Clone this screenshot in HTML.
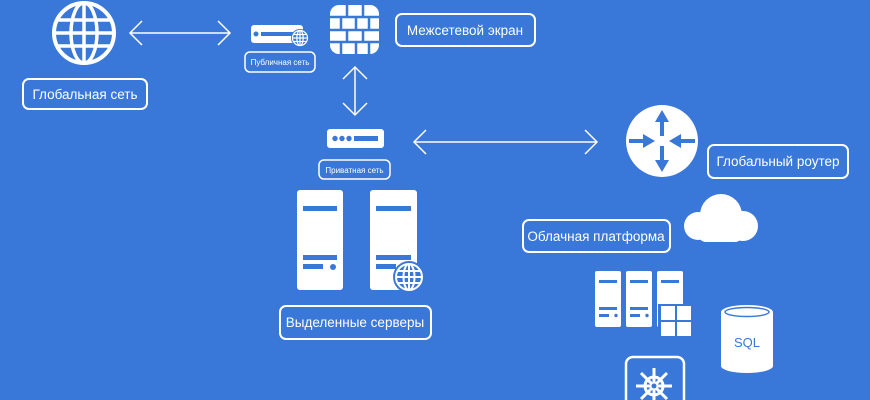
<!DOCTYPE html>
<html><head><meta charset="utf-8"><style>
html,body{margin:0;padding:0;background:#3977d8;}
svg{display:block}
text{font-family:"Liberation Sans",sans-serif;fill:#fff;font-weight:normal}
</style></head><body>
<svg width="870" height="400" viewBox="0 0 870 400" xmlns="http://www.w3.org/2000/svg">
<rect width="870" height="400" fill="#3977d8"/>
<g fill="none" stroke="#fff" stroke-width="2">
 <circle cx="84" cy="33" r="30" stroke-width="4"/>
 <ellipse cx="84" cy="33" rx="13" ry="30" stroke-width="3.5"/>
 <line x1="84" y1="3" x2="84" y2="63" stroke-width="3.5"/>
 <line x1="54" y1="33" x2="114" y2="33" stroke-width="3.5"/>
 <line x1="58" y1="20" x2="110" y2="20" stroke-width="3.5"/>
 <line x1="58" y1="46" x2="110" y2="46" stroke-width="3.5"/>
 <g stroke-width="1.5">
 <line x1="130" y1="33" x2="230" y2="33"/>
 <polyline points="142,21 130,33 142,45"/><polyline points="218,21 230,33 218,45"/>
 <line x1="355" y1="67" x2="355" y2="115"/>
 <polyline points="343,79 355,67 367,79"/><polyline points="343,103 355,115 367,103"/>
 <line x1="414" y1="142" x2="597" y2="142"/>
 <polyline points="426,130 414,142 426,154"/><polyline points="585,130 597,142 585,154"/>
 </g>
 <rect x="23" y="79" width="124" height="30" rx="6"/>
 <rect x="396" y="14" width="139" height="32" rx="6"/>
 <rect x="245" y="52" width="70" height="20" rx="5" stroke-width="1.5"/>
 <rect x="319" y="160" width="71" height="19" rx="5" stroke-width="1.5"/>
 <rect x="708" y="145" width="140" height="33" rx="6"/>
 <rect x="523" y="220" width="147" height="32" rx="6"/>
 <rect x="280" y="306" width="151" height="33" rx="6"/>
 <rect x="626" y="357" width="58" height="55" rx="7" stroke-width="2.5"/>
</g>
<g font-size="13.5">
 <text x="85" y="99" text-anchor="middle">Глобальная сеть</text>
 <text x="465" y="35" text-anchor="middle">Межсетевой экран</text>
 <text x="778" y="166" text-anchor="middle">Глобальный роутер</text>
 <text x="596" y="241" text-anchor="middle">Облачная платформа</text>
 <text x="355" y="327" text-anchor="middle">Выделенные серверы</text>
</g>
<g font-size="8">
 <text x="280" y="65" text-anchor="middle">Публичная сеть</text>
 <text x="354.5" y="173" text-anchor="middle">Приватная сеть</text>
</g>
<rect x="251" y="25" width="52" height="18" rx="3" fill="#fff"/>
<circle cx="256" cy="34" r="2.5" fill="#3977d8"/>
<rect x="261" y="32" width="32" height="4" fill="#3977d8"/>
<circle cx="300" cy="38" r="9" fill="#3977d8"/>
<g fill="none" stroke="#fff" stroke-width="1.2"><circle cx="300" cy="38" r="7.5"/><ellipse cx="300" cy="38" rx="3.2" ry="7.5"/><line x1="292.5" y1="38" x2="307.5" y2="38"/><line x1="300" y1="30.5" x2="300" y2="45.5"/><line x1="293.5" y1="34.5" x2="306.5" y2="34.5"/><line x1="293.5" y1="41.5" x2="306.5" y2="41.5"/></g>
<rect x="330" y="5" width="49" height="49" rx="9" fill="#fff"/>
<g stroke="#3977d8" stroke-width="2.5">
 <line x1="330" y1="17" x2="379" y2="17"/><line x1="330" y1="30" x2="379" y2="30"/><line x1="330" y1="42" x2="379" y2="42"/>
 <line x1="347" y1="5" x2="347" y2="17"/><line x1="363" y1="5" x2="363" y2="17"/>
 <line x1="341" y1="17" x2="341" y2="30"/><line x1="356" y1="17" x2="356" y2="30"/><line x1="369" y1="17" x2="369" y2="30"/>
 <line x1="347" y1="30" x2="347" y2="42"/><line x1="363" y1="30" x2="363" y2="42"/>
 <line x1="341" y1="42" x2="341" y2="54"/><line x1="356" y1="42" x2="356" y2="54"/><line x1="369" y1="42" x2="369" y2="54"/>
</g>
<rect x="327" y="129" width="57" height="19" rx="3" fill="#fff"/>
<circle cx="335" cy="138.5" r="2.7" fill="#3977d8"/><circle cx="342" cy="138.5" r="2.7" fill="#3977d8"/><circle cx="349" cy="138.5" r="2.7" fill="#3977d8"/>
<rect x="354" y="136" width="24" height="5" fill="#3977d8"/>
<g fill="#fff"><rect x="297" y="190" width="46" height="100" rx="3"/><rect x="370" y="190" width="47" height="100" rx="3"/></g>
<g fill="#3977d8">
 <rect x="303" y="206" width="34" height="5"/><rect x="303" y="255" width="34" height="5"/><rect x="303" y="264" width="20" height="5"/><circle cx="333" cy="267" r="3"/>
 <rect x="376" y="206" width="35" height="5"/><rect x="376" y="255" width="35" height="5"/><rect x="376" y="264" width="20" height="5"/>
 <circle cx="409" cy="277" r="16"/>
</g>
<g fill="none" stroke="#fff" stroke-width="2"><circle cx="409" cy="277" r="13"/><ellipse cx="409" cy="277" rx="5.5" ry="13"/><line x1="396" y1="277" x2="422" y2="277"/><line x1="409" y1="264" x2="409" y2="290"/><line x1="398" y1="271" x2="420" y2="271"/><line x1="398" y1="283" x2="420" y2="283"/></g>
<circle cx="662" cy="141" r="36" fill="#fff"/>
<g stroke="#3977d8" stroke-width="4" fill="#3977d8">
 <line x1="662" y1="136" x2="662" y2="120"/><polygon points="655,122 662,110 669,122" stroke="none"/>
 <line x1="662" y1="146" x2="662" y2="162"/><polygon points="655,160 662,172 669,160" stroke="none"/>
 <line x1="629" y1="141" x2="645" y2="141"/><polygon points="643,134 655,141 643,148" stroke="none"/>
 <line x1="695" y1="141" x2="679" y2="141"/><polygon points="681,134 669,141 681,148" stroke="none"/>
</g>
<g fill="#fff"><circle cx="721" cy="215" r="21"/><circle cx="698" cy="226" r="14"/><circle cx="743" cy="226" r="15"/><rect x="698" y="222" width="45" height="20" rx="8"/></g>
<g fill="#fff"><rect x="595" y="271" width="26" height="56" rx="2"/><rect x="626" y="271" width="26" height="56" rx="2"/><rect x="657" y="271" width="26" height="56" rx="2"/></g>
<g fill="#3977d8">
 <rect x="599" y="280" width="18" height="3"/><rect x="599" y="307" width="18" height="3"/><rect x="599" y="314" width="10" height="3"/><circle cx="616" cy="315.5" r="1.7"/>
 <rect x="630" y="280" width="18" height="3"/><rect x="630" y="307" width="18" height="3"/><rect x="630" y="314" width="10" height="3"/><circle cx="647" cy="315.5" r="1.7"/>
 <rect x="661" y="280" width="18" height="3"/>
 <rect x="658" y="304" width="35" height="35"/>
</g>
<g fill="#fff"><rect x="661" y="306" width="14" height="14"/><rect x="677" y="306" width="14" height="14"/><rect x="661" y="322" width="14" height="14"/><rect x="677" y="322" width="14" height="14"/></g>
<path d="M721,312 L721,366 A26,7 0 0 0 773,366 L773,312 Z" fill="#fff"/>
<ellipse cx="747" cy="312" rx="26" ry="7" fill="#fff"/>
<ellipse cx="747" cy="312" rx="22" ry="4.5" fill="none" stroke="#3977d8" stroke-width="1.5"/>
<text x="747" y="347" text-anchor="middle" font-size="13" style="fill:#3977d8">SQL</text>
<g stroke="#fff" stroke-width="3" fill="none">
 <circle cx="654" cy="386" r="9"/>
 <line x1="654" y1="368" x2="654" y2="404"/><line x1="636" y1="386" x2="672" y2="386"/>
 <line x1="641" y1="373" x2="667" y2="399"/><line x1="667" y1="373" x2="641" y2="399"/>
</g>
<circle cx="654" cy="386" r="2.5" fill="#3977d8"/>
</svg>
</body></html>
